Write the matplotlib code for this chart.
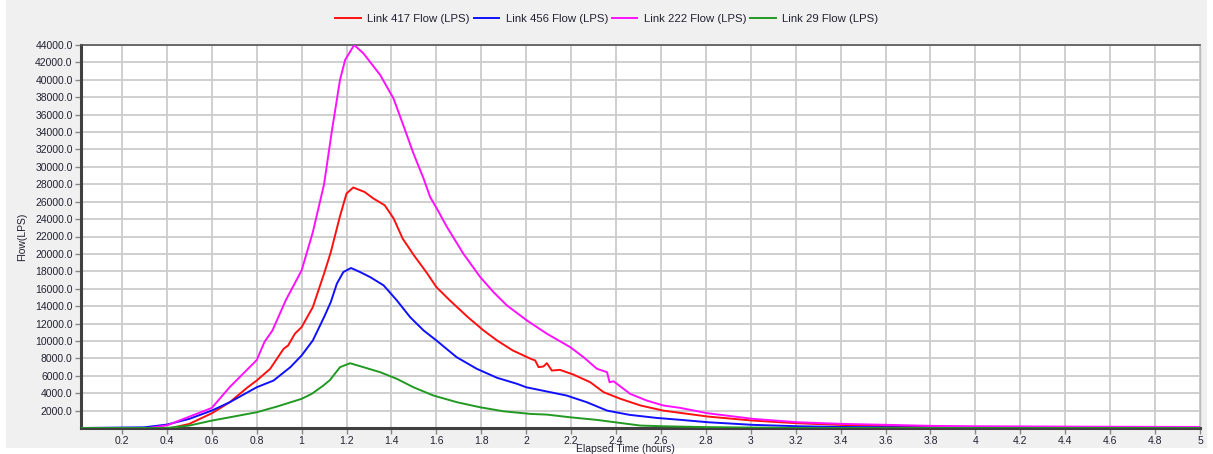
import matplotlib
matplotlib.use("Agg")
import matplotlib.pyplot as plt
from matplotlib.patches import Rectangle
from matplotlib.ticker import FixedLocator, FuncFormatter

# Elapsed time (hours) and flow (LPS) for each link
t_417 = [0.02, 0.42, 0.50, 0.60, 0.68, 0.76, 0.80, 0.86, 0.92, 0.94, 0.97, 1.00, 1.05, 1.10,
         1.13, 1.17, 1.20, 1.23, 1.28, 1.32, 1.37, 1.41, 1.45, 1.50, 1.56, 1.60, 1.66, 1.74,
         1.81, 1.87, 1.94, 2.02, 2.04, 2.055, 2.077, 2.092, 2.114, 2.15, 2.21, 2.285, 2.345,
         2.42, 2.51, 2.61, 2.81, 3.01, 3.21, 3.41, 3.61, 3.81, 4.0, 4.5, 5.0]
q_417 = [0, 0, 470, 1690, 2960, 4680, 5450, 6800, 9100, 9480, 10830, 11590, 13890, 17730,
         20200, 24250, 26940, 27630, 27120, 26360, 25590, 24060, 21760, 19840, 17730, 16190,
         14660, 12740, 11210, 10060, 8910, 7950, 7760, 6990, 7070, 7450, 6600, 6680, 6140,
         5260, 4110, 3350, 2580, 2000, 1310, 850, 540, 350, 200, 150, 100, 60, 30]

t_456 = [0.02, 0.30, 0.40, 0.50, 0.60, 0.68, 0.80, 0.875, 0.95, 1.00, 1.05, 1.10, 1.13, 1.157,
         1.186, 1.22, 1.26, 1.305, 1.365, 1.424, 1.483, 1.543, 1.60, 1.69, 1.78, 1.87, 1.96,
         2.00, 2.18, 2.27, 2.36, 2.46, 2.58, 2.69, 2.81, 3.01, 3.21, 3.41, 3.61, 4.0, 5.0]
q_456 = [0, 80, 390, 1050, 2000, 2960, 4680, 5450, 6990, 8330, 10060, 12740, 14470, 16580,
         17920, 18380, 17920, 17340, 16390, 14660, 12740, 11210, 10060, 8140, 6800, 5770,
         5070, 4680, 3730, 2960, 2000, 1510, 1160, 930, 660, 360, 200, 120, 80, 30, 10]

t_222 = [0.02, 0.32, 0.40, 0.50, 0.60, 0.68, 0.80, 0.835, 0.87, 0.93, 1.00, 1.05, 1.10, 1.134,
         1.171, 1.194, 1.234, 1.275, 1.35, 1.409, 1.461, 1.498, 1.543, 1.572, 1.602, 1.647,
         1.72, 1.795, 1.854, 1.914, 2.003, 2.092, 2.196, 2.255, 2.315, 2.36, 2.371, 2.389,
         2.463, 2.537, 2.612, 2.686, 2.809, 3.01, 3.21, 3.41, 3.61, 3.81, 4.0, 4.5, 5.0]
q_222 = [0, 0, 300, 1300, 2300, 4700, 7800, 9900, 11200, 14700, 18100, 22500, 28000, 34000,
         40000, 42300, 44000, 43050, 40550, 37870, 34200, 31540, 28660, 26550, 25210, 23100,
         20030, 17350, 15620, 14080, 12360, 10830, 9290, 8140, 6800, 6410, 5260, 5370, 3920,
         3150, 2580, 2310, 1690, 1050, 660, 470, 360, 240, 200, 150, 120]

t_29 = [0.02, 0.40, 0.50, 0.60, 0.68, 0.80, 0.89, 1.00, 1.045, 1.097, 1.127, 1.171, 1.216,
        1.275, 1.35, 1.424, 1.498, 1.587, 1.692, 1.795, 1.899, 2.018, 2.092, 2.196, 2.315,
        2.508, 2.609, 2.809, 3.01, 3.3, 5.0]
q_29 = [0, 0, 280, 850, 1230, 1810, 2460, 3350, 3920, 4880, 5530, 6990, 7440, 6990, 6410,
        5650, 4680, 3730, 2960, 2380, 1920, 1620, 1540, 1230, 930, 280, 200, 100, 50, 0, 0]

series_labels = ["Link 417 Flow (LPS)", "Link 456 Flow (LPS)",
                 "Link 222 Flow (LPS)", "Link 29 Flow (LPS)"]
series_colors = ["#ff1010", "#1010ff", "#ff10ff", "#229922"]

x_ticks = [round(0.2 * k, 1) for k in range(1, 26)]
y_ticks = list(range(2000, 44001, 2000))

W, H = 1213, 454
plt.rcParams["font.family"] = ["Liberation Sans", "DejaVu Sans"]
fig = plt.figure(figsize=(W / 100, H / 100), dpi=100, facecolor="white")
fig.patches.append(Rectangle((6 / W, 6 / H), (W - 12) / W, (H - 6) / H,
                             transform=fig.transFigure, facecolor="#f0f0f0",
                             edgecolor="none", zorder=-10))

ax = fig.add_axes([81 / W, 1 - 428 / H, (1200 - 81) / W, (428 - 45) / H])
ax.set_facecolor("white")

series = [(t_417, q_417), (t_456, q_456), (t_222, q_222), (t_29, q_29)]
for (t, q), lab, col in zip(series, series_labels, series_colors):
    ax.plot(t, q, color=col, lw=1.4, label=lab, zorder=3)

ax.set_xlim(0.0178, 5.0)
ax.set_ylim(0, 44000)
ax.xaxis.set_major_locator(FixedLocator(x_ticks))
ax.yaxis.set_major_locator(FixedLocator(y_ticks))
ax.xaxis.set_major_formatter(FuncFormatter(lambda v, p: f"{v:g}"))
ax.yaxis.set_major_formatter(FuncFormatter(lambda v, p: f"{v:.1f}"))
ax.tick_params(axis="both", labelsize=7.5, colors="#888888", labelcolor="#222233",
               length=4, width=1, pad=2)
ax.grid(True, color="#cccccc", lw=1.3, zorder=0)

for side in ("left", "bottom"):
    ax.spines[side].set_color("#404040")
    ax.spines[side].set_linewidth(2.2)
ax.spines["top"].set_color("#555555")
ax.spines["top"].set_linewidth(1.2)
ax.spines["right"].set_color("#bbbbbb")
ax.spines["right"].set_linewidth(1.0)

ax.set_ylabel("Flow(LPS)", fontsize=7.5, color="#222233", labelpad=6)
fig.text(625 / W, 1 - 449 / H, "Elapsed Time (hours)", ha="center", va="center",
         fontsize=7.5, color="#222233")

fig.legend(loc="center", bbox_to_anchor=(607 / W, 1 - 19 / H), ncol=4, frameon=False,
           fontsize=8.2, handlelength=2.2, handletextpad=0.6, columnspacing=0.35,
           labelcolor="#222233")

fig.savefig("out.png", dpi=100, facecolor=fig.get_facecolor())
